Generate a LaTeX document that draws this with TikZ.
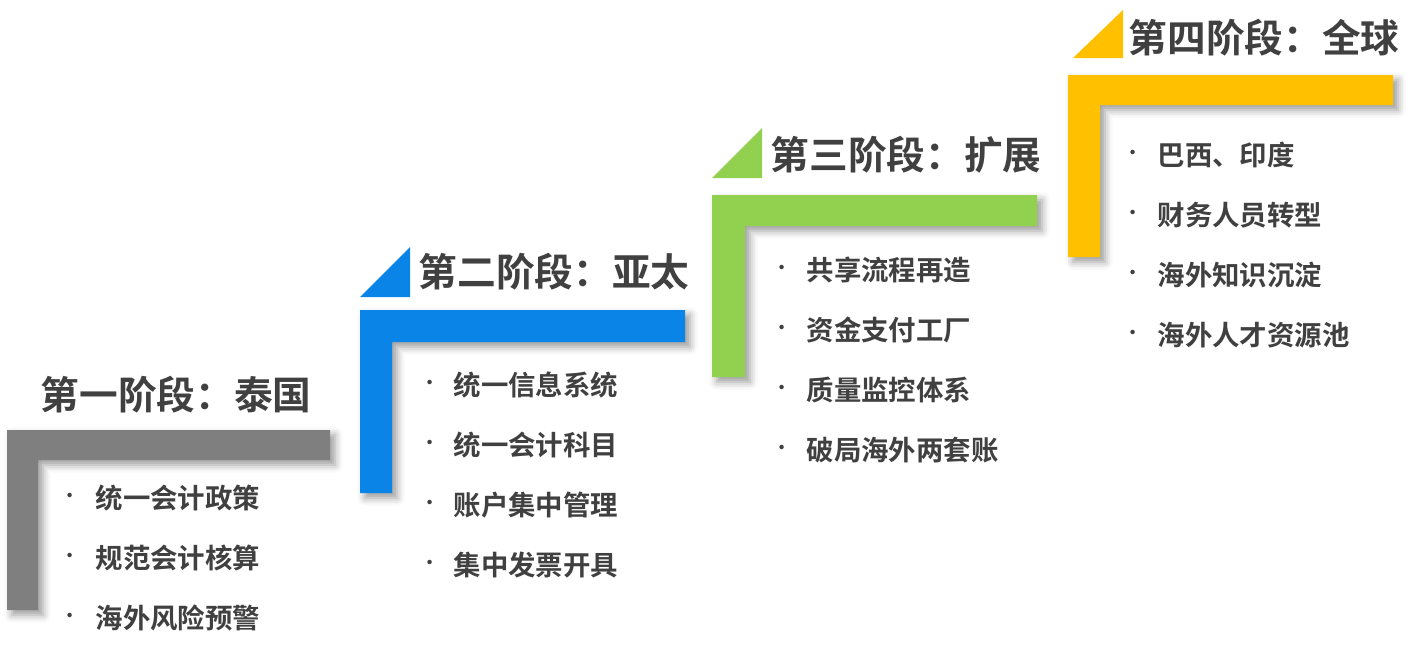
\documentclass[tikz,border=0pt]{standalone}
\usepackage{fontspec}
\setmainfont{Noto Sans CJK SC}
\newfontfamily\cjkb{Noto Sans CJK SC Bold}
\usetikzlibrary{shadows.blur}
\definecolor{sg}{HTML}{7F7F7F}
\definecolor{sb}{HTML}{0A84E6}
\definecolor{sgr}{HTML}{92D050}
\definecolor{sy}{HTML}{FFC000}
\definecolor{tx}{HTML}{404040}
\tikzset{
 stair/.style={draw=none,blur shadow={shadow xshift=0.05cm,shadow yshift=-0.05cm,shadow blur steps=4,shadow opacity=40}},
 ttl/.style={anchor=west,font=\cjkb\fontsize{11pt}{13pt}\selectfont,text=tx,inner sep=0},
 itm/.style={anchor=west,font=\cjkb\fontsize{7.8pt}{9pt}\selectfont,text=tx,inner sep=0},
 dot/.style={anchor=center,font=\fontsize{6pt}{7pt}\selectfont,text=tx,inner sep=0}
}
\begin{document}
\begin{tikzpicture}[x=0.01cm,y=-0.01cm]
\useasboundingbox (0,0) rectangle (1417,645);
% stage 1
\fill[sg,stair] (7,430) -- (330,430) -- (330,460) -- (38,460) -- (38,610) -- (7,610) -- cycle;
\node[ttl] (t1) at (40,395) {第一阶段：泰国};
\foreach \t [count=\i] in {统一会计政策,规范会计核算,海外风险预警}{
 \node[dot] (d1\i) at (70,498+60*\i-60) {•};
 \node[itm] (a1\i) at (95,498+60*\i-60) {\t};}
% stage 2
\fill[sb,stair] (360,310) -- (685,310) -- (685,342) -- (392,342) -- (392,493) -- (360,493) -- cycle;
\fill[sb] (360,297) -- (410,297) -- (410,247) -- cycle;
\node[ttl] (t2) at (418,272) {第二阶段：亚太};
\foreach \t [count=\i] in {统一信息系统,统一会计科目,账户集中管理,集中发票开具}{
 \node[dot] (d2\i) at (430,385+60*\i-60) {•};
 \node[itm] (a2\i) at (453,385+60*\i-60) {\t};}
% stage 3
\fill[sgr,stair] (712,195) -- (1037,195) -- (1037,226) -- (745,226) -- (745,377) -- (712,377) -- cycle;
\fill[sgr] (712,178) -- (762,178) -- (762,128) -- cycle;
\node[ttl] (t3) at (770,155) {第三阶段：扩展};
\foreach \t [count=\i] in {共享流程再造,资金支付工厂,质量监控体系,破局海外两套账}{
 \node[dot] (d3\i) at (782,270+60*\i-60) {•};
 \node[itm] (a3\i) at (806,270+60*\i-60) {\t};}
% stage 4
\fill[sy,stair] (1068,75) -- (1393,75) -- (1393,105) -- (1100,105) -- (1100,257) -- (1068,257) -- cycle;
\fill[sy] (1073,58) -- (1123,58) -- (1123,10) -- cycle;
\node[ttl] (t4) at (1128,38) {第四阶段：全球};
\foreach \t [count=\i] in {巴西、印度,财务人员转型,海外知识沉淀,海外人才资源池}{
 \node[dot] (d4\i) at (1133,155+60*\i-60) {•};
 \node[itm] (a4\i) at (1157,155+60*\i-60) {\t};}
\end{tikzpicture}
\end{document}
